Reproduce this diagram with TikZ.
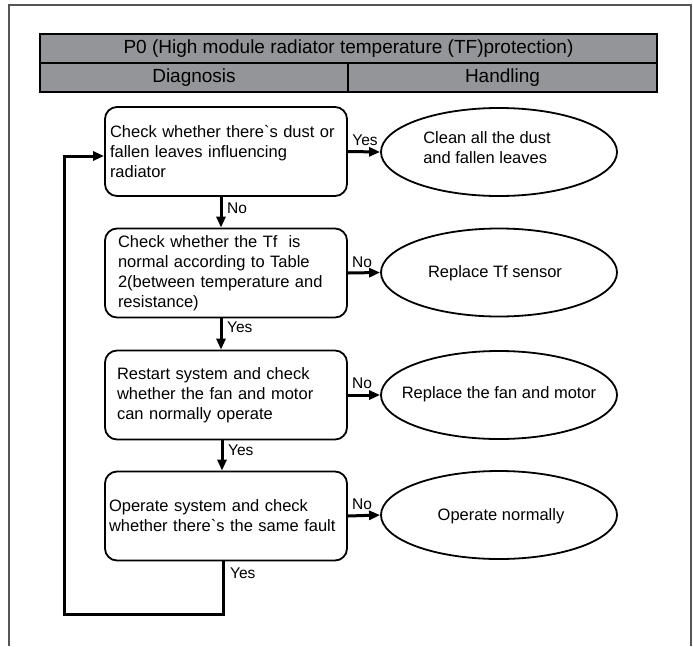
\documentclass[tikz,border=0pt]{standalone}
\usepackage{fontspec}
\setmainfont{Liberation Sans}[Ligatures=TeXOff]
\usetikzlibrary{arrows.meta,shapes.geometric}
\definecolor{hdrgray}{HTML}{939598}
\definecolor{framegray}{HTML}{555555}
\begin{document}
\begin{tikzpicture}[x=1pt,y=-1pt,
  box/.style={draw, line width=1.8pt, rounded corners=12pt, minimum width=242pt, minimum height=89pt,
    align=left, inner sep=0pt, font=\fontsize{16.5}{20}\selectfont},
  oval/.style={draw, ellipse, line width=1.8pt, minimum width=236pt, minimum height=88pt, inner sep=0pt},
  otext/.style={align=left, inner sep=0pt, font=\fontsize{16.5}{20}\selectfont},
  hdr/.style={draw, fill=hdrgray, line width=2.2pt, minimum height=29pt, inner sep=0pt,
    font=\fontsize{19}{22}\selectfont},
  conn/.style={line width=3pt, -{Triangle[length=11pt,width=9pt]}},
  lbl/.style={font=\fontsize{15.5}{17}\selectfont, inner sep=0pt},
]
\useasboundingbox (0,0) rectangle (693,646);
% outer frame
\draw[framegray, line width=1.5pt] (9,646) -- (9,5) -- (691,5) -- (691,646);
% header
\node[hdr, minimum width=617pt] (title) at (348.5,48.5) {P0 (High module radiator temperature (TF)protection)};
\node[hdr, minimum width=308pt] (diag) at (194,77.5) {Diagnosis};
\node[hdr, minimum width=309pt] (hand) at (502.5,77.5) {Handling};
% boxes
\node[box, text width=232pt] (b1) at (226,151.5) {Check whether there`s dust or\\fallen leaves influencing\\radiator};
\node[box, text width=216pt] (b2) at (226,273) {Check whether the Tf\ \ is\\normal according to Table\\2(between temperature and\\resistance)};
\node[box, text width=218pt] (b3) at (226,395) {Restart system and check\\whether the fan and motor\\can normally operate};
\node[box, text width=234pt] (b4) at (226,516) {Operate system and check\\whether there`s the same fault};
% ellipses
\node[oval] (e1) at (499,152) {};
\node[oval] (e2) at (499,272.5) {};
\node[oval] (e3) at (499,395) {};
\node[oval] (e4) at (499,515) {};
\node[otext] (t1) at (487,148) {Clean all the dust\\and fallen leaves};
\node[otext] (t2) at (495,273) {Replace Tf sensor};
\node[otext] (t3) at (499,394) {Replace the fan and motor};
\node[otext] (t4) at (501,516) {Operate normally};
% horizontal arrows
\draw[conn] (b1.east) -- (e1.west);
\draw[conn] (b2.east) -- (e2.west);
\draw[conn] (b3.east) -- (e3.west);
\draw[conn] (b4.east) -- (e4.west);
\node[lbl] (y1) at (365,140) {Yes};
\node[lbl] (n2) at (362,262) {No};
\node[lbl] (n3) at (362,383) {No};
\node[lbl] (n4) at (362,504) {No};
% vertical arrows
\draw[conn] ([xshift=-5pt]b1.south) -- ([xshift=-5pt]b2.north);
\draw[conn] ([xshift=-5pt]b2.south) -- ([xshift=-5pt]b3.north);
\draw[conn] ([xshift=-4pt]b3.south) -- ([xshift=-4pt]b4.north);
\node[lbl, anchor=west] (nv1) at (227,208) {No};
\node[lbl, anchor=west] (yv2) at (227,327) {Yes};
\node[lbl, anchor=west] (yv3) at (228,450) {Yes};
\node[lbl, anchor=west] (yv4) at (230,573) {Yes};
% loop back
\coordinate (lc) at (64,614);
\draw[conn] ([xshift=-3pt]b4.south) |- (lc) |- ([yshift=-4.5pt]b1.west);
\end{tikzpicture}
\end{document}
